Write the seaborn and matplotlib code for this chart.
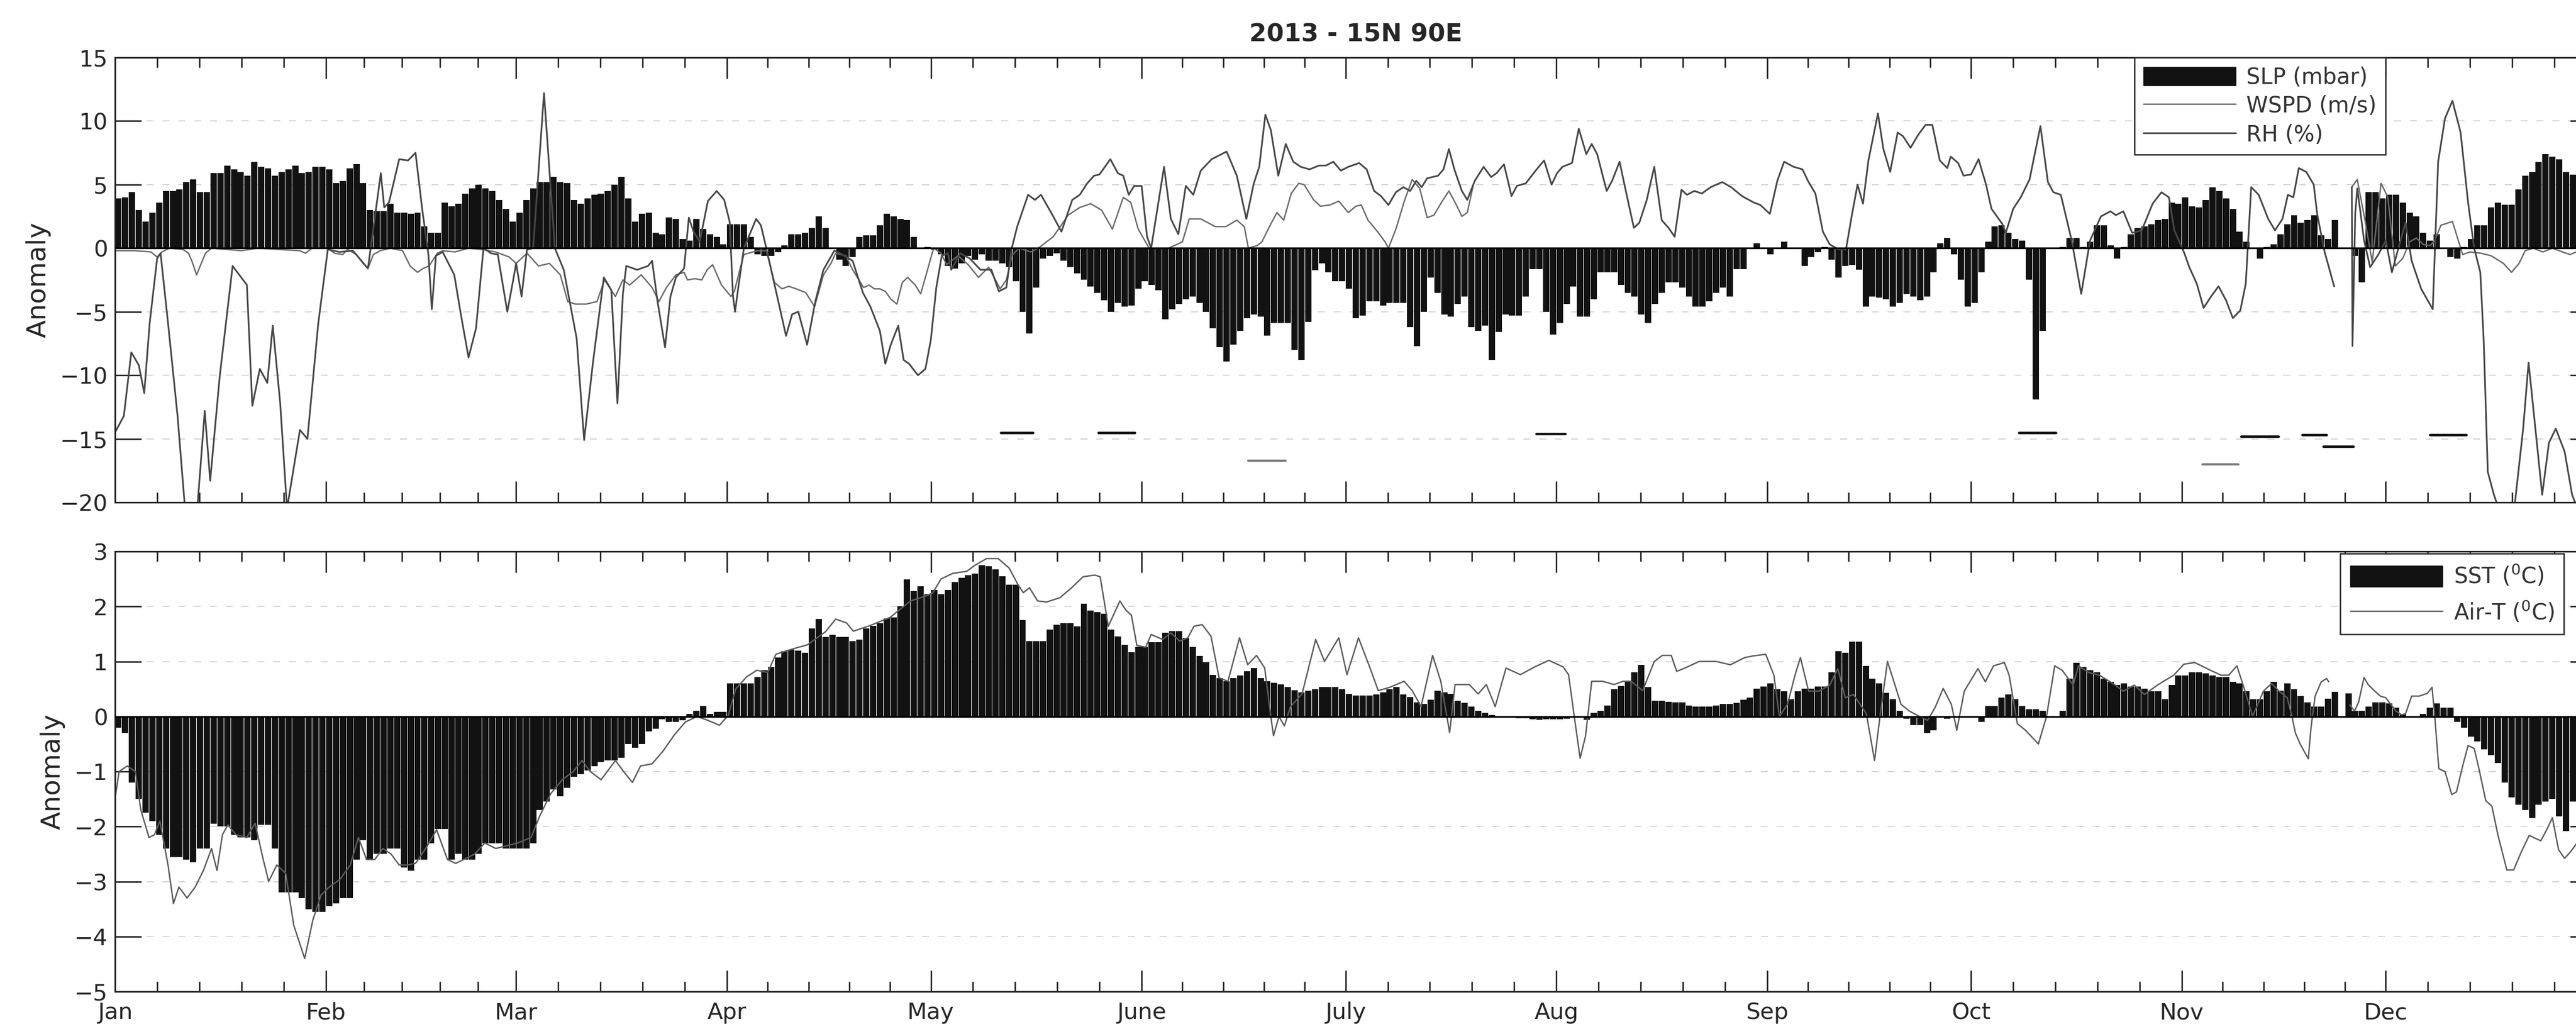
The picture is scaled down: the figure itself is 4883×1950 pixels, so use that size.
import numpy as np
import pandas as pd
import matplotlib
matplotlib.use('Agg')
import matplotlib.pyplot as plt
import seaborn as sns
from matplotlib.patches import Patch
from matplotlib.lines import Line2D
from matplotlib.ticker import FixedLocator

# ---- data: daily anomalies, 2013, 15N 90E (day 0 = Jan 1) ----
slp = [
    3.9, 4.0, 4.4, 3.0, 2.1, 2.8, 3.6, 4.5, 4.5, 4.6,
    5.2, 5.4, 4.4, 4.4, 5.9, 5.9, 6.5, 6.2, 6.0, 5.7,
    6.8, 6.4, 6.3, 5.7, 6.0, 6.2, 6.5, 5.9, 6.0, 6.4,
    6.4, 6.2, 5.1, 5.3, 6.3, 6.6, 5.1, 3.0, 2.9, 2.9,
    3.5, 2.8, 2.8, 2.7, 2.8, 1.7, 1.2, 1.2, 3.6, 3.3,
    3.5, 4.3, 4.7, 5.0, 4.7, 4.5, 3.8, 3.1, 2.1, 2.8,
    3.8, 4.7, 5.2, 5.2, 5.6, 5.2, 5.1, 3.8, 3.5, 3.9,
    4.2, 4.3, 4.5, 5.0, 5.6, 3.9, 2.1, 2.7, 2.8, 1.2,
    1.1, 2.4, 2.3, 0.7, 0.6, 2.3, 1.5, 1.1, 0.9, 0.3,
    1.9, 1.9, 1.9, 0.9, -0.5, -0.6, -0.6, -0.3, 0.2, 1.1,
    1.1, 1.2, 1.6, 2.5, 1.6, 0.0, -0.9, -1.4, -0.7, 0.9,
    1.0, 1.0, 1.8, 2.7, 2.5, 2.3, 2.2, 0.9, 0.0, 0.1,
    -0.1, -0.5, -1.4, -1.6, -1.2, -0.6, -0.9, -0.5, -1.0, -1.0,
    -1.2, -1.5, -2.6, -5.0, -6.7, -3.1, -0.8, -0.6, -0.4, -1.0,
    -1.5, -2.0, -2.5, -3.0, -3.5, -4.1, -5.0, -4.3, -4.6, -4.5,
    -3.2, -2.6, -2.9, -3.3, -5.6, -4.8, -4.4, -4.0, -3.8, -4.3,
    -5.0, -6.3, -7.8, -8.9, -7.6, -6.5, -5.5, -5.2, -5.4, -6.9,
    -5.9, -5.9, -5.9, -8.0, -8.8, -5.8, -1.75, -1.2, -1.9, -2.6,
    -2.6, -3.2, -5.5, -5.3, -4.2, -4.2, -4.5, -4.3, -4.3, -4.3,
    -6.2, -7.7, -5.0, -2.3, -3.5, -5.2, -5.4, -4.4, -3.8, -6.2,
    -6.5, -6.1, -8.8, -6.6, -5.2, -5.3, -5.3, -3.8, -1.65, -1.65,
    -5.0, -6.8, -5.9, -4.4, -3.0, -5.4, -5.4, -4.0, -1.9, -1.9,
    -1.9, -2.9, -3.5, -3.8, -5.2, -5.9, -4.4, -3.5, -2.7, -2.7,
    -3.1, -3.8, -4.6, -4.6, -4.2, -3.5, -3.1, -3.8, -1.65, -1.65,
    0.0, 0.4, 0.0, -0.5, 0.05, 0.5, 0.05, 0.0, -1.4, -0.7,
    -0.3, 0.1, -0.9, -2.3, -1.4, -1.3, -1.7, -4.6, -3.8, -3.9,
    -4.0, -4.6, -4.3, -3.6, -3.8, -4.1, -3.8, -1.9, 0.4, 0.8,
    -0.5, -2.5, -4.6, -4.3, -1.9, 0.5, 1.7, 1.8, 1.2, 0.7,
    0.6, -2.5, -11.9, -6.5, 0.0, 0.0, 0.1, 0.8, 0.8, 0.1,
    0.5, 1.8, 1.8, 0.2, -0.8, 0.1, 1.1, 1.6, 1.7, 1.9,
    2.2, 2.3, 3.6, 3.5, 4.0, 3.3, 3.2, 3.8, 4.8, 4.5,
    3.9, 3.1, 1.3, 0.5, 0.0, -0.8, 0.1, 0.3, 1.1, 1.9,
    2.6, 2.0, 2.2, 2.6, 1.0, 0.7, 2.2, 0.0, 0.0, -0.6,
    -2.7, 4.4, 4.4, 3.9, 4.2, 4.2, 3.6, 2.8, 2.5, 1.2,
    0.6, 1.1, 0.0, -0.7, -0.8, 0.1, 0.7, 1.8, 1.8, 3.2,
    3.6, 3.4, 3.4, 4.6, 5.7, 6.0, 6.8, 7.4, 7.2, 7.0,
    6.0, 5.8, 5.7, 5.5, 5.3,
]

sst = [
    -0.2, -0.3, -1.2, -1.5, -1.75, -1.9, -2.15, -2.4, -2.55, -2.55,
    -2.6, -2.65, -2.4, -2.4, -1.95, -2.0, -2.0, -2.15, -2.2, -2.2,
    -2.25, -1.97, -1.97, -2.4, -3.2, -3.2, -3.2, -3.3, -3.5, -3.55,
    -3.55, -3.45, -3.4, -3.3, -3.3, -2.6, -2.25, -2.6, -2.5, -2.5,
    -2.4, -2.4, -2.75, -2.8, -2.6, -2.6, -2.3, -2.05, -2.05, -2.6,
    -2.5, -2.6, -2.6, -2.5, -2.3, -2.3, -2.3, -2.4, -2.4, -2.4,
    -2.4, -2.3, -1.7, -1.55, -1.33, -1.45, -1.3, -1.1, -1.05, -0.98,
    -0.9, -0.83, -0.8, -0.8, -0.75, -0.5, -0.57, -0.5, -0.27, -0.22,
    -0.05, -0.1, -0.1, -0.07, 0.05, 0.1, 0.19, 0.05, 0.08, 0.08,
    0.6, 0.6, 0.6, 0.6, 0.72, 0.84, 0.9, 1.07, 1.19, 1.22,
    1.2, 1.16, 1.6, 1.77, 1.45, 1.48, 1.45, 1.45, 1.37, 1.4,
    1.6, 1.65, 1.7, 1.78, 1.8, 2.0, 2.49, 2.28, 2.37, 2.22,
    2.3, 2.22, 2.3, 2.44, 2.52, 2.57, 2.6, 2.75, 2.73, 2.67,
    2.55, 2.4, 2.4, 1.75, 1.37, 1.37, 1.37, 1.58, 1.67, 1.7,
    1.7, 1.64, 2.05, 1.93, 1.9, 1.87, 1.58, 1.46, 1.3, 1.17,
    1.26, 1.26, 1.35, 1.35, 1.52, 1.55, 1.55, 1.43, 1.26, 1.1,
    0.99, 0.76, 0.7, 0.64, 0.7, 0.75, 0.82, 0.88, 0.7, 0.64,
    0.61, 0.58, 0.53, 0.48, 0.44, 0.47, 0.5, 0.53, 0.53, 0.53,
    0.5, 0.41, 0.38, 0.38, 0.38, 0.4, 0.44, 0.5, 0.53, 0.4,
    0.35, 0.26, 0.23, 0.3, 0.47, 0.44, 0.41, 0.29, 0.25, 0.18,
    0.1, 0.06, 0.03, 0.0, 0.0, -0.02, -0.03, -0.03, -0.05, -0.06,
    -0.05, -0.05, -0.05, -0.04, -0.01, 0.0, -0.06, 0.06, 0.1, 0.2,
    0.5, 0.55, 0.64, 0.8, 0.94, 0.53, 0.29, 0.29, 0.27, 0.26,
    0.26, 0.2, 0.18, 0.18, 0.18, 0.2, 0.23, 0.23, 0.25, 0.3,
    0.34, 0.51, 0.54, 0.6, 0.5, 0.46, 0.31, 0.46, 0.51, 0.51,
    0.54, 0.54, 0.8, 1.19, 1.16, 1.36, 1.36, 0.92, 0.69, 0.6,
    0.43, 0.31, 0.1, -0.04, -0.16, -0.16, -0.3, -0.25, -0.02, -0.04,
    -0.02, -0.02, -0.02, -0.02, -0.1, 0.19, 0.19, 0.34, 0.4, 0.31,
    0.19, 0.13, 0.13, 0.1, 0.0, 0.0, 0.1, 0.69, 0.98, 0.9,
    0.84, 0.8, 0.69, 0.63, 0.57, 0.6, 0.54, 0.54, 0.51, 0.46,
    0.46, 0.31, 0.57, 0.75, 0.75, 0.8, 0.8, 0.78, 0.75, 0.72,
    0.72, 0.63, 0.6, 0.46, 0.31, 0.31, 0.46, 0.63, 0.47, 0.6,
    0.5, 0.37, 0.26, 0.18, 0.18, 0.32, 0.45, 0.0, 0.42, 0.1,
    0.1, 0.18, 0.26, 0.26, 0.24, 0.16, 0.05, 0.0, 0.0, 0.05,
    0.16, 0.24, 0.16, 0.16, -0.1, -0.2, -0.37, -0.45, -0.6, -0.7,
    -0.85, -1.2, -1.47, -1.6, -1.7, -1.84, -1.6, -1.55, -1.5, -1.82,
    -2.08, -1.55, -1.0, -0.9, -0.9,
]

# line series as (day, value) vertices, None = data gap
rh_pts = [
    (0.0, -14.5), (1.3, -13.2), (2.4, -8.2), (3.5, -9.2), (4.3, -11.4), (5.1, -5.9),
    (6.2, -0.8), (6.7, -0.4), (7.8, -5.9), (9.2, -13.2), (10.3, -20.5), (12.1, -20.5),
    (13.2, -12.8), (14.0, -18.3), (15.4, -10.1), (17.3, -1.4), (19.4, -2.9), (20.2, -12.4),
    (21.3, -9.5), (22.4, -10.6), (23.2, -6.1), (24.3, -12.2), (25.3, -20.5), (27.2, -14.3),
    (28.3, -15.0), (29.9, -5.9), (31.3, -0.1), (33.0, -0.3), (35.0, -0.2), (37.2, -1.6),
    (39.1, 5.9), (39.6, 3.2), (40.3, 3.6), (41.8, 7.0), (43.1, 6.9), (44.2, 7.5),
    (45.2, 3.0), (46.1, -0.5), (46.6, -4.8), (47.2, -0.6), (48.2, -0.3), (49.9, -2.1),
    (50.9, -5.3), (52.0, -8.6), (53.1, -6.3), (54.2, 0.0), (55.3, -0.4), (56.3, -0.5),
    (57.7, -5.0), (58.5, -2.7), (59.0, -1.2), (59.8, -3.8), (60.6, -0.1), (61.5, 0.0),
    (63.1, 12.2), (64.7, 0.0), (66.0, -1.7), (67.9, -7.1), (69.0, -15.1), (70.3, -9.0),
    (71.9, -2.3), (73.0, -3.3), (73.9, -12.2), (74.7, -3.6), (75.2, -1.4), (76.8, -1.7),
    (78.4, -1.4), (79.0, -1.0), (79.8, -4.2), (80.9, -7.8), (81.7, -3.8), (82.5, -2.3),
    (83.7, -1.6), (84.4, 2.4), (85.1, 1.3), (86.0, 0.5), (87.2, 3.7), (88.5, 4.5),
    (89.6, 3.8), (90.4, 2.1), (90.9, -3.8), (91.2, -5.0), (91.7, -3.0), (92.5, 0.0),
    (94.3, 2.3), (95.0, 1.8), (95.8, 0.0), (97.1, -3.1), (98.7, -6.9), (99.6, -5.2),
    (100.5, -5.0), (101.8, -7.6), (103.0, -4.2), (104.2, -1.7), (105.8, -0.2), (107.0, -0.5),
    (108.5, -1.0), (110.0, -3.5), (111.1, -4.6), (112.5, -6.5), (113.3, -9.1), (114.1, -7.6),
    (115.2, -6.1), (116.0, -8.8), (116.8, -9.1), (118.1, -10.0), (119.2, -9.5), (120.0, -7.2),
    (120.8, -3.1), (121.6, -0.6), (122.5, -0.4), (123.0, -1.7), (124.3, -0.4), (125.7, -0.8),
    (127.3, -1.7), (128.9, -1.7), (130.0, -3.4), (131.1, -3.1), (131.9, 0.0), (132.7, 1.7),
    (134.3, 4.2), (135.3, 3.8), (136.2, 4.2), (138.0, 2.5), (139.2, 1.3), (140.8, 3.8),
    (141.9, 4.2), (143.0, 5.1), (144.0, 5.7), (144.8, 5.8), (146.4, 7.0), (147.5, 5.9),
    (148.3, 5.7), (149.1, 4.2), (149.9, 4.9), (151.0, 4.9), (151.8, 0.9), (152.4, 0.0),
    (154.3, 6.4), (155.3, 2.3), (156.4, 1.1), (157.5, 4.9), (158.6, 4.2), (159.7, 6.1),
    (161.3, 7.0), (163.5, 7.6), (165.0, 5.7), (166.4, 2.3), (167.5, 5.1), (168.3, 6.4),
    (169.2, 10.5), (170.0, 9.3), (171.1, 5.7), (172.2, 8.2), (173.3, 6.8), (174.4, 6.4),
    (175.7, 6.2), (177.1, 6.5), (178.1, 6.5), (179.2, 6.8), (180.3, 6.1), (181.4, 6.4),
    (183.0, 6.7), (184.1, 6.2), (185.2, 4.5), (186.2, 4.1), (187.3, 3.4), (188.4, 4.4),
    (189.5, 4.8), (190.5, 4.5), (191.4, 5.3), (192.2, 4.8), (193.0, 5.5), (194.6, 5.7),
    (195.4, 6.2), (196.2, 7.8), (197.0, 6.2), (198.1, 4.5), (198.9, 3.8), (200.0, 5.3),
    (201.3, 6.4), (202.4, 5.6), (203.2, 5.9), (204.3, 6.6), (205.4, 4.1), (206.2, 4.9),
    (207.5, 5.1), (209.1, 6.2), (210.2, 6.9), (211.3, 5.0), (212.1, 5.9), (212.9, 6.4),
    (214.3, 6.7), (215.3, 9.4), (216.4, 7.4), (217.2, 8.2), (218.0, 7.4), (219.4, 4.5),
    (220.2, 5.3), (221.3, 6.8), (222.3, 4.3), (223.4, 1.6), (224.2, 2.0), (225.3, 3.8),
    (226.4, 6.4), (227.5, 2.2), (228.5, 1.6), (229.4, 0.9), (230.4, 4.6), (231.2, 4.2),
    (232.3, 4.5), (233.4, 4.3), (234.7, 4.8), (236.4, 5.2), (237.7, 4.8), (239.3, 4.1),
    (241.0, 3.6), (242.0, 3.4), (243.4, 2.7), (244.5, 5.3), (245.5, 6.8), (246.9, 6.4),
    (248.2, 6.2), (249.0, 5.3), (250.1, 4.3), (251.2, 1.3), (252.2, 0.3), (253.5, -0.1),
    (254.6, -0.1), (255.5, 2.7), (256.3, 5.0), (257.1, 3.5), (257.9, 6.9), (259.3, 10.6),
    (260.1, 7.8), (261.1, 6.0), (262.2, 9.1), (263.0, 8.8), (264.1, 7.9), (265.2, 8.9),
    (266.3, 9.7), (267.3, 9.7), (268.4, 6.9), (269.5, 6.3), (270.0, 7.2), (271.1, 6.7),
    (271.9, 5.7), (273.0, 5.8), (274.1, 7.0), (275.2, 5.0), (276.0, 3.1), (276.8, 2.5),
    (277.6, 1.9), (278.1, 1.2), (279.2, 3.1), (280.3, 4.0), (281.6, 5.4), (283.2, 9.6),
    (284.3, 5.2), (285.1, 4.4), (286.2, 4.2), (287.8, 0.6), (289.2, -3.6), (290.5, 0.6),
    (292.1, 2.5), (293.5, 2.9), (294.3, 2.6), (295.4, 2.9), (296.7, 1.2), (298.1, 1.4),
    (299.7, 3.5), (301.0, 4.4), (302.1, 4.0), (302.9, 1.4), (304.3, -0.3), (305.1, -1.5),
    (306.2, -2.8), (307.2, -4.7), (308.3, -3.8), (309.4, -3.0), (310.5, -4.1), (311.5, -5.5),
    (312.6, -4.9), (313.4, -2.8), (314.2, 4.8), (315.3, 4.2), (316.7, 2.3), (317.7, 1.4),
    (318.8, 2.3), (319.6, 4.2), (320.4, 4.0), (321.2, 6.3), (322.3, 6.0), (323.4, 5.0),
    (323.9, 2.7), (325.0, -0.3), (326.4, -3.0),
    None,
    (329.0, 4.8), (329.1, -7.7), (329.5, 2.7), (329.8, 4.7), (330.3, 2.7), (330.8, 0.6),
    (331.7, -1.5), (332.9, -0.5), (334.0, 0.6), (334.9, -1.9), (335.7, -0.3), (336.9, 2.0),
    (337.8, -1.0), (339.2, -3.2), (340.9, -4.8), (341.2, -0.5), (341.7, 6.8), (342.7, 10.2),
    (343.8, 11.6), (345.0, 9.1), (346.1, 3.6), (347.0, 0.0), (347.9, -1.9), (348.4, -7.3),
    (349.0, -17.6), (349.9, -19.4), (350.6, -20.5), (352.9, -20.5), (354.2, -14.2), (355.0, -9.0),
    (356.0, -14.2), (357.0, -19.4), (358.0, -15.3), (359.0, -14.2), (360.3, -16.0), (361.4, -19.4),
    (362.2, -20.5), (364.5, -20.5),
]

wspd_pts = [
    (0.0, -0.2), (3.0, -0.2), (5.3, -0.3), (6.2, -0.7), (6.9, -0.3), (8.0, 0.0),
    (10.0, -0.1), (10.8, -0.4), (11.3, -1.0), (12.0, -2.1), (13.3, -0.4), (14.2, 0.0),
    (18.6, -0.2), (21.0, 0.0), (27.2, -0.2), (28.0, -0.4), (29.0, 0.0), (31.3, 0.0),
    (32.3, -0.4), (33.5, -0.5), (34.2, -0.1), (35.5, -0.5), (36.5, -1.2), (37.2, -1.6),
    (38.0, -0.5), (39.0, -0.2), (40.5, 0.0), (42.3, -0.2), (43.4, -1.4), (44.5, -1.9),
    (45.3, -1.6), (46.2, -1.4), (47.4, -0.4), (48.2, -0.2), (50.0, -0.3), (52.0, 0.0),
    (54.0, -0.1), (56.0, -0.3), (58.0, -0.7), (59.0, -1.2), (60.6, -0.4), (62.3, -1.4),
    (63.9, -1.2), (65.5, -2.1), (66.6, -4.2), (67.7, -4.4), (69.3, -4.4), (70.9, -4.2),
    (72.0, -2.5), (73.6, -3.8), (74.7, -2.5), (75.7, -2.9), (77.4, -2.1), (79.0, -3.1),
    (80.0, -4.2), (81.1, -3.1), (82.5, -2.1), (83.7, -1.9), (84.2, -2.5), (85.3, -2.4),
    (86.3, -2.5), (87.1, -1.7), (87.9, -1.3), (89.2, -2.9), (90.6, -3.8), (91.1, -3.4),
    (92.0, -1.5), (92.5, -0.5), (94.5, -0.2), (95.8, -0.2), (97.0, -2.7), (98.1, -3.2),
    (99.1, -3.0), (100.2, -3.2), (101.6, -3.5), (102.9, -4.6), (104.2, -2.1), (105.3, -1.2),
    (106.0, -0.4), (107.5, -0.6), (108.5, -1.7), (110.1, -3.1), (110.9, -2.9), (111.7, -3.2),
    (112.5, -3.2), (113.3, -3.4), (114.1, -4.0), (115.0, -4.4), (115.8, -2.7), (116.6, -2.3),
    (117.7, -2.9), (118.5, -3.6), (119.3, -2.1), (120.4, 0.0), (121.5, -0.4), (122.3, -1.3),
    (124.0, -0.6), (125.5, -1.3), (127.0, -2.3), (128.5, -1.5), (130.2, -3.2), (131.1, -2.5),
    (132.0, -0.5), (133.0, 0.0), (134.7, -0.3), (135.8, 0.0), (138.0, 0.9), (140.2, 2.6),
    (141.9, 3.2), (143.5, 3.5), (145.1, 3.0), (146.7, 1.5), (148.3, 4.0), (149.4, 3.6),
    (150.5, 1.5), (152.1, 0.0), (155.0, 0.0), (157.0, 0.5), (158.0, 2.3), (159.7, 2.3),
    (161.8, 1.7), (163.4, 1.7), (165.0, 2.2), (166.1, 1.7), (166.7, 0.0), (168.0, 0.2),
    (168.7, 0.5), (169.8, 1.7), (170.9, 2.8), (171.9, 2.2), (173.0, 4.3), (174.1, 5.1),
    (174.9, 5.0), (176.3, 3.8), (177.3, 3.3), (178.7, 3.4), (180.0, 3.7), (181.4, 2.8),
    (182.5, 3.3), (183.3, 3.4), (184.3, 2.2), (185.7, 1.3), (186.8, 0.5), (187.3, 0.0),
    (188.4, 1.5), (189.7, 3.8), (190.8, 5.4), (191.9, 4.7), (193.0, 2.4), (194.0, 2.6),
    (195.1, 3.6), (196.2, 4.5), (197.3, 3.4), (198.1, 2.5), (198.9, 2.8), (199.8, 5.0),
    None,
    (329.0, 4.8), (329.8, 5.4), (330.9, 2.3), (332.0, -1.1), (333.3, 5.1), (334.3, 4.0),
    (335.4, -1.4), (336.5, -0.8), (337.5, 0.5), (338.5, 0.8), (339.5, 0.3), (340.5, 0.2),
    (341.2, 0.6), (342.1, 1.8), (343.8, 2.1), (345.3, -0.5), (346.4, -0.3), (348.0, -0.4),
    (349.5, -0.6), (351.3, -1.2), (352.5, -1.9), (353.6, -1.2), (354.5, -0.2), (355.7, 0.0),
    (357.1, -0.3), (358.5, 0.0), (360.0, -0.3), (361.1, -0.5), (362.0, -0.3), (364.5, -0.2),
]

airt_pts = [
    (0.0, -1.5), (0.6, -1.0), (1.8, -0.9), (3.0, -1.0), (3.8, -1.7), (5.0, -2.2),
    (5.8, -2.15), (6.6, -1.9), (7.8, -2.7), (8.6, -3.4), (9.4, -3.1), (10.6, -3.3),
    (11.8, -3.1), (13.0, -2.8), (14.2, -2.4), (15.0, -2.8), (15.8, -2.15), (16.6, -1.97),
    (17.8, -2.15), (19.4, -2.2), (20.6, -1.94), (21.8, -2.6), (22.6, -3.0), (23.8, -2.7),
    (25.1, -2.85), (26.3, -3.8), (27.9, -4.4), (29.1, -3.7), (30.3, -3.25), (31.5, -3.1),
    (33.1, -2.96), (34.6, -2.7), (35.8, -2.2), (37.0, -2.6), (38.2, -2.6), (39.4, -2.4),
    (40.6, -2.5), (41.8, -2.7), (43.0, -2.7), (44.2, -2.67), (45.7, -2.4), (47.3, -2.06),
    (48.9, -2.6), (50.1, -2.67), (51.3, -2.6), (52.9, -2.5), (54.4, -2.3), (56.0, -2.4),
    (57.6, -2.35), (59.2, -2.3), (61.2, -2.2), (62.5, -1.8), (64.1, -1.4), (65.8, -1.15),
    (67.4, -1.0), (68.7, -0.8), (69.9, -1.0), (71.5, -1.15), (72.4, -1.0), (73.6, -0.8),
    (74.8, -1.0), (76.1, -1.2), (77.3, -0.9), (79.0, -0.86), (80.6, -0.63), (82.3, -0.33),
    (83.9, -0.1), (85.6, 0.0), (87.2, -0.07), (88.9, -0.16), (90.2, 0.02), (91.3, 0.5),
    (92.9, 0.72), (94.4, 0.84), (96.0, 0.8), (97.2, 1.13), (98.7, 1.19), (100.3, 1.25),
    (101.8, 1.3), (104.5, 1.54), (106.0, 1.77), (107.6, 1.7), (108.6, 1.55), (111.0, 1.65),
    (114.0, 1.8), (117.0, 2.1), (119.5, 2.2), (120.3, 2.25), (121.5, 2.5), (123.2, 2.6),
    (125.3, 2.64), (126.5, 2.75), (128.2, 2.87), (129.9, 2.87), (131.5, 2.7), (132.8, 2.4),
    (133.6, 2.25), (134.5, 2.34), (135.7, 2.1), (137.0, 2.08), (139.0, 2.16), (140.7, 2.34),
    (142.4, 2.54), (144.1, 2.57), (144.9, 2.54), (146.1, 1.64), (147.8, 2.1), (148.7, 1.93),
    (149.5, 1.84), (150.3, 1.29), (151.6, 1.26), (152.4, 1.49), (154.1, 1.4), (155.3, 1.52),
    (156.6, 1.37), (157.8, 1.43), (158.7, 1.64), (159.9, 1.67), (161.2, 1.46), (162.4, 0.7),
    (163.7, 0.64), (165.4, 1.43), (166.6, 0.94), (167.9, 1.11), (169.1, 0.88), (170.0, 0.0),
    (170.4, -0.35), (171.2, 0.0), (172.0, -0.17), (172.9, 0.18), (174.6, 0.41), (176.6, 1.4),
    (177.9, 1.0), (180.0, 1.43), (181.2, 0.76), (182.9, 1.43), (184.6, 0.88), (185.8, 0.47),
    (187.5, 0.53), (189.6, 0.64), (190.8, 0.47), (192.1, 0.18), (193.8, 1.11), (195.0, 0.64),
    (195.9, 0.0), (196.3, -0.29), (197.1, 0.58), (199.2, 0.58), (200.5, 0.41), (201.7, 0.58),
    (203.0, 0.18), (204.6, 0.88), (206.7, 0.76), (208.8, 0.9), (210.9, 1.02), (213.0, 0.9),
    (213.8, 0.76), (214.7, -0.06), (215.5, -0.76), (216.3, -0.35), (217.2, 0.64), (218.8, 0.64),
    (220.5, 0.58), (221.8, 0.64), (223.0, 0.64), (224.7, 0.47), (226.4, 1.0), (227.6, 1.11),
    (228.9, 1.11), (229.7, 0.82), (230.9, 0.88), (233.0, 1.0), (235.5, 1.0), (237.6, 0.94),
    (239.7, 1.07), (240.9, 1.1), (242.8, 1.13), (244.0, 0.75), (244.8, 0.0), (246.0, 0.22),
    (247.1, 0.75), (247.9, 1.07), (249.1, 0.46), (250.6, 0.46), (252.2, 0.57), (253.4, 0.87),
    (254.5, 0.34), (255.7, 0.4), (257.6, 0.05), (258.8, -0.8), (259.6, 0.0), (260.7, 1.0),
    (261.5, 0.69), (262.7, 0.22), (263.9, 0.1), (265.4, 0.0), (266.6, -0.07), (267.7, 0.16),
    (268.9, 0.51), (270.1, 0.22), (270.9, -0.25), (272.0, 0.46), (274.0, 0.87), (275.1, 0.63),
    (276.3, 0.92), (277.9, 0.98), (278.6, 0.75), (279.8, -0.13), (281.0, -0.25), (282.9, -0.5),
    (284.1, 0.0), (285.3, 0.92), (286.4, 0.84), (288.0, 0.57), (288.8, 0.92), (290.3, 0.8),
    (291.9, 0.75), (294.2, 0.57), (295.4, 0.46), (297.0, 0.57), (298.5, 0.4), (300.4, 0.57),
    (302.8, 0.75), (304.3, 0.95), (305.9, 0.98), (308.2, 0.84), (309.8, 0.75), (310.9, 0.75),
    (312.1, 0.92), (313.3, 0.46), (314.4, 0.0), (316.0, 0.46), (317.2, 0.6), (318.3, 0.46),
    (319.5, 0.34), (320.2, 0.0), (320.7, -0.3), (321.4, -0.5), (322.6, -0.77), (323.0, -0.2),
    (323.6, 0.37), (324.5, 0.63), (325.3, 0.69), (325.6, 0.63),
    None,
    (328.7, 0.21), (329.4, 0.1), (330.0, 0.26), (330.8, 0.71), (331.4, 0.58), (332.3, 0.47),
    (333.2, 0.37), (334.0, 0.34), (334.6, 0.24), (335.5, 0.1), (336.3, 0.03), (336.9, 0.05),
    (337.8, 0.37), (338.9, 0.37), (340.1, 0.42), (340.8, 0.53), (341.2, 0.0), (341.8, -0.95),
    (342.7, -1.0), (343.7, -1.42), (344.4, -1.37), (345.3, -0.9), (346.1, -0.53), (347.0, -0.58),
    (347.7, -0.95), (348.7, -1.53), (349.6, -1.63), (350.5, -2.16), (351.8, -2.79), (352.8, -2.79),
    (353.9, -2.47), (355.1, -2.16), (355.9, -2.21), (356.8, -2.26), (357.7, -2.05), (358.5, -1.84),
    (359.4, -2.42), (360.3, -2.58), (361.1, -2.47), (362.0, -2.32), (364.5, -2.2),
]

# short isolated pieces near the bottom of the upper panel
dash_start = [130.3, 144.6, 166.7, 209.0, 280.0, 307.0, 312.7, 321.7, 324.8, 340.5]
dash_end = [135.0, 150.0, 172.2, 213.3, 285.5, 312.3, 318.2, 325.3, 329.2, 345.8]
dash_val = [-14.5, -14.5, -16.7, -14.6, -14.5, -17.0, -14.8, -14.7, -15.6, -14.7]
dash_dark = [True, True, False, True, True, False, True, True, True, True]

month_start = [0, 31, 59, 90, 120, 151, 181, 212, 243, 273, 304, 334, 365]
month_names = ['Jan', 'Feb', 'Mar', 'Apr', 'May', 'June', 'July', 'Aug', 'Sep', 'Oct', 'Nov', 'Dec']

assert len(slp) == 365 and len(sst) == 365

BAR = '#121212'
RH_C = '#474747'
WS_C = '#6a6a6a'
AT_C = '#5c5c5c'


def to_frame(pts):
    rows, seg = [], 0
    for p in pts:
        if p is None:
            seg += 1
            continue
        rows.append((p[0], p[1], seg))
    return pd.DataFrame(rows, columns=['day', 'val', 'seg'])


sns.set_theme(style='ticks')
plt.rcParams['font.family'] = ['DejaVu Sans']
plt.rcParams['mathtext.default'] = 'regular'

W, H = 4883, 1950
fig = plt.figure(figsize=(W / 100, H / 100), dpi=100)
ax1 = fig.add_axes([218 / W, 1 - 952 / H, 4704 / W, (952 - 109) / H])
ax2 = fig.add_axes([218 / W, 1 - 1879 / H, 4704 / W, (1879 - 1045) / H])

days = np.arange(365) + 0.5
bars = pd.DataFrame({'day': days, 'slp': slp, 'sst': sst})

sns.barplot(data=bars, x='day', y='slp', native_scale=True, width=0.93, color=BAR,
            saturation=1, errorbar=None, linewidth=0, ax=ax1)
sns.barplot(data=bars, x='day', y='sst', native_scale=True, width=0.93, color=BAR,
            saturation=1, errorbar=None, linewidth=0, ax=ax2)

sns.lineplot(data=to_frame(wspd_pts), x='day', y='val', units='seg', estimator=None,
             sort=False, color=WS_C, lw=1.9, ax=ax1, legend=False)
sns.lineplot(data=to_frame(rh_pts), x='day', y='val', units='seg', estimator=None,
             sort=False, color=RH_C, lw=2.3, ax=ax1, legend=False)
sns.lineplot(data=to_frame(airt_pts), x='day', y='val', units='seg', estimator=None,
             sort=False, color=AT_C, lw=1.9, ax=ax2, legend=False)

dashes = pd.DataFrame({
    'day': dash_start + dash_end,
    'val': dash_val + dash_val,
    'seg': list(range(len(dash_val))) * 2,
    'dark': dash_dark + dash_dark,
}).sort_values(['seg', 'day'])
sns.lineplot(data=dashes[dashes['dark']], x='day', y='val', units='seg', estimator=None,
             sort=False, color='#111111', lw=3.4, ax=ax1, legend=False)
sns.lineplot(data=dashes[~dashes['dark']], x='day', y='val', units='seg', estimator=None,
             sort=False, color='#777777', lw=3.0, ax=ax1, legend=False)

minor = [s + k * (e - s) / 5 for s, e in zip(month_start[:-1], month_start[1:]) for k in range(1, 5)]

for ax, lo, hi, step in ((ax1, -20, 15, 5), (ax2, -5, 3, 1)):
    ax.axhline(0, color='#000000', lw=2.4, zorder=3)
    ax.set_xlim(0, 365)
    ax.set_ylim(lo, hi)
    ax.set_yticks(range(lo, hi + 1, step))
    ax.xaxis.set_major_locator(FixedLocator(month_start[:-1]))
    ax.xaxis.set_minor_locator(FixedLocator(minor))
    ax.tick_params(axis='x', which='major', direction='in', length=29, width=2,
                   top=True, bottom=True, color='#222222')
    ax.tick_params(axis='x', which='minor', direction='in', length=14, width=2,
                   top=True, bottom=True, color='#222222')
    ax.tick_params(axis='y', which='major', direction='in', length=36, width=2,
                   left=True, right=True, labelsize=31, pad=10, color='#222222')
    ax.grid(axis='y', ls=(0, (8, 10)), color='#cccccc', lw=1.2)
    ax.set_axisbelow(True)
    ax.set_xlabel('')
    ax.set_ylabel('Anomaly', fontsize=36, labelpad=12)
    for sp in ax.spines.values():
        sp.set_visible(True)
        sp.set_linewidth(2.2)
        sp.set_color('#222222')

ax1.tick_params(axis='x', labelbottom=False)
ax2.set_xticklabels(month_names)
ax2.tick_params(axis='x', which='major', labelsize=31, pad=14)

ax1.set_title('2013 - 15N 90E', fontsize=34, fontweight='bold', pad=22)

h1 = [Patch(facecolor=BAR, edgecolor=BAR),
      Line2D([], [], color=WS_C, lw=1.9),
      Line2D([], [], color=RH_C, lw=2.3)]
leg1 = ax1.legend(h1, ['SLP (mbar)', 'WSPD (m/s)', 'RH (%)'], loc='upper right',
                  bbox_to_anchor=(4522 / W, 1 - 109 / H), bbox_transform=fig.transFigure,
                  borderaxespad=0, fontsize=30, handlelength=4.2, handleheight=0.9,
                  handletextpad=0.5, labelspacing=0.3, borderpad=0.4,
                  fancybox=False, framealpha=1, edgecolor='#333333')
leg1.get_frame().set_linewidth(2)
for t in leg1.get_texts():
    t.set_color('#333333')

h2 = [Patch(facecolor=BAR, edgecolor=BAR),
      Line2D([], [], color=AT_C, lw=1.9)]
leg2 = ax2.legend(h2, ['SST ($^{0}$C)', 'Air-T ($^{0}$C)'], loc='upper left',
                  bbox_to_anchor=(4436 / W, 1 - 1049 / H), bbox_transform=fig.transFigure,
                  borderaxespad=0, fontsize=30, handlelength=4.2, handleheight=1.1,
                  handletextpad=0.5, labelspacing=0.5, borderpad=0.45,
                  fancybox=False, framealpha=1, edgecolor='#333333')
leg2.get_frame().set_linewidth(2)
for t in leg2.get_texts():
    t.set_color('#333333')

fig.savefig('out.png', dpi=100, facecolor='white')
